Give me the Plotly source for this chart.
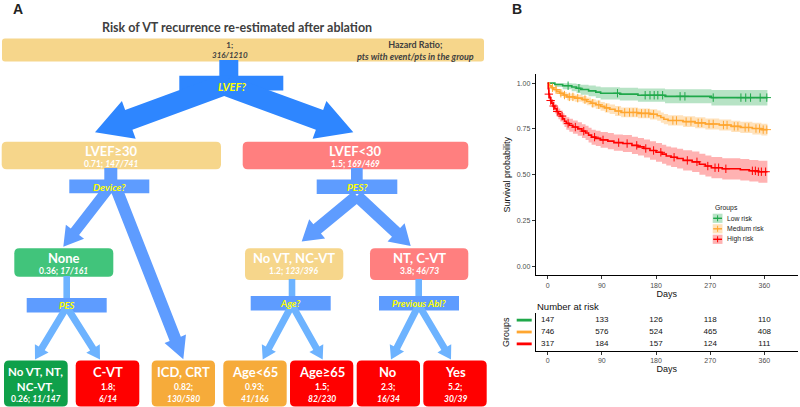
import math
import plotly.graph_objects as go

# ---------------- DATA ----------------
# Panel A: decision tree
root_hr = "1"
root_events = "316/1210"
tree_title = "Risk of VT recurrence re-estimated after ablation"
key_lines = ["Hazard Ratio;", "pts with event/pts in the group"]
questions = ["LVEF?", "Device?", "PES?", "PES", "Age?", "Previous Abl?"]
node_titles = ["LVEF≥30", "LVEF<30", "None", "No VT, NC-VT", "NT, C-VT",
               "No VT, NT,<br>NC-VT,", "C-VT", "ICD, CRT", "Age<65", "Age≥65", "No", "Yes"]
node_hr = ["0.71", "1.5", "0.36", "1.2", "3.8", "0.26", "1.8", "0.82", "0.93", "1.5", "2.3", "5.2"]
node_events = ["147/741", "169/469", "17/161", "123/396", "46/73", "11/147", "6/14",
               "130/580", "41/166", "82/230", "16/34", "30/39"]

# Panel B: Kaplan-Meier curves
groups = ["Low risk", "Medium risk", "High risk"]
g_t = [0, 12, 25, 40, 48, 55, 68, 80, 88, 120, 150, 195, 272, 365]
g_s = [1.0, 0.993, 0.986, 0.979, 0.972, 0.965, 0.958, 0.951, 0.945, 0.940, 0.934, 0.928, 0.921, 0.921]
g_lo = [1.0, 0.979, 0.967, 0.956, 0.946, 0.937, 0.928, 0.919, 0.911, 0.905, 0.898, 0.890, 0.878, 0.878]
g_hi = [1.0, 1.0, 1.0, 0.998, 0.995, 0.991, 0.987, 0.982, 0.978, 0.975, 0.971, 0.967, 0.963, 0.963]
g_c = [34, 52, 116, 162, 170, 177, 183, 191, 220, 228, 275, 321, 329, 337, 353, 364]

o_t = [0, 3, 6, 10, 15, 20, 26, 32, 45, 58, 65, 72, 80, 88, 95, 103, 112, 122, 150, 170,
       182, 188, 193, 200, 225, 245, 262, 285, 305, 320, 340, 355, 365]
o_s = [1.0, 0.985, 0.975, 0.965, 0.955, 0.945, 0.935, 0.925, 0.918, 0.910, 0.900, 0.890, 0.882,
       0.873, 0.865, 0.857, 0.848, 0.840, 0.835, 0.830, 0.822, 0.812, 0.803, 0.796, 0.790, 0.783,
       0.777, 0.771, 0.764, 0.758, 0.752, 0.746, 0.746]
o_lo = [1.0, 0.977, 0.966, 0.954, 0.942, 0.930, 0.919, 0.907, 0.899, 0.890, 0.879, 0.868, 0.859,
        0.849, 0.840, 0.831, 0.821, 0.813, 0.808, 0.802, 0.794, 0.784, 0.775, 0.768, 0.761, 0.754,
        0.747, 0.741, 0.733, 0.727, 0.720, 0.714, 0.714]
o_hi = [1.0, 0.993, 0.985, 0.977, 0.968, 0.960, 0.951, 0.943, 0.937, 0.930, 0.921, 0.912, 0.905,
        0.897, 0.890, 0.883, 0.875, 0.867, 0.862, 0.858, 0.850, 0.840, 0.831, 0.825, 0.819, 0.813,
        0.807, 0.801, 0.795, 0.789, 0.784, 0.778, 0.778]
o_c = [8, 14, 22, 28, 36, 42, 50, 62, 75, 85, 98, 118, 128, 136, 142, 148, 156, 162, 168, 176,
       208, 214, 230, 238, 250, 256, 268, 275, 292, 298, 310, 316, 328, 334, 346, 352, 358, 364]

r_t = [0, 1, 2, 3, 5, 7, 9, 12, 15, 18, 21, 25, 28, 31, 36, 42, 50, 57, 63, 68, 73, 80, 88, 100,
       110, 125, 140, 150, 160, 170, 180, 190, 197, 205, 215, 225, 240, 252, 262, 272, 290, 320,
       335, 350, 365]
r_s = [1.0, 0.97, 0.94, 0.92, 0.905, 0.89, 0.875, 0.86, 0.845, 0.832, 0.82, 0.805, 0.792, 0.78,
       0.77, 0.76, 0.75, 0.738, 0.728, 0.716, 0.705, 0.698, 0.69, 0.683, 0.675, 0.67, 0.66, 0.652,
       0.643, 0.632, 0.622, 0.612, 0.602, 0.595, 0.588, 0.578, 0.57, 0.557, 0.547, 0.538, 0.532,
       0.527, 0.521, 0.516, 0.516]
r_lo = [1.0, 0.958, 0.924, 0.901, 0.884, 0.867, 0.850, 0.834, 0.817, 0.803, 0.790, 0.774, 0.760,
        0.746, 0.735, 0.724, 0.713, 0.700, 0.689, 0.676, 0.664, 0.656, 0.647, 0.639, 0.630, 0.624,
        0.613, 0.604, 0.594, 0.582, 0.571, 0.560, 0.550, 0.542, 0.534, 0.523, 0.514, 0.500, 0.490,
        0.480, 0.474, 0.468, 0.462, 0.456, 0.456]
r_hi = [1.0, 0.982, 0.956, 0.939, 0.926, 0.913, 0.900, 0.886, 0.873, 0.861, 0.850, 0.836, 0.824,
        0.814, 0.805, 0.796, 0.787, 0.776, 0.767, 0.756, 0.746, 0.740, 0.733, 0.727, 0.720, 0.716,
        0.707, 0.700, 0.692, 0.682, 0.673, 0.664, 0.654, 0.648, 0.642, 0.633, 0.626, 0.614, 0.604,
        0.596, 0.590, 0.586, 0.580, 0.576, 0.576]
r_c = [2, 5, 10, 16, 24, 34, 46, 60, 78, 92, 118, 132, 148, 163, 176, 188, 210, 232, 248, 266,
       278, 284, 296, 340, 345, 350, 355, 362]

# Number at risk table
risk_days = [0, 90, 180, 270, 360]
risk_low = [147, 133, 126, 118, 110]
risk_med = [746, 576, 524, 465, 408]
risk_high = [317, 184, 157, 124, 111]
day_ticks = [0, 90, 180, 270, 360]
surv_ticks = [0, 0.25, 0.5, 0.75, 1.0]
surv_ticklabels = ["0.00", "0.25", "0.50", "0.75", "1.00"]

# ---------------- STYLE / LAYOUT ----------------
W, H = 800, 407
FA = "Lato"
FB = "Liberation Sans"
C_TAN = "#F6D68B"
C_SALMON = "#FF7F7F"
C_GREEN_L = "#41C47B"
C_GREEN_D = "#0FA04A"
C_RED = "#FF0000"
C_ORANGE = "#F6AB3A"
C_BLUE1 = "#2E86FF"
C_BLUE2 = "#5E9CFF"
C_BLUE3 = "#6DB3FF"
YEL = "#FFFF00"
COL_G, COL_O, COL_R = "#1FA84A", "#FFA630", "#FF0000"
BAND_G, BAND_O, BAND_R = "rgba(31,168,74,0.32)", "rgba(255,166,48,0.32)", "rgba(255,0,0,0.30)"


def X(px):
    return px / W


def Y(py):
    return 1 - py / H


shapes = []
annotations = []


def poly(points, color):
    d = "M " + " L ".join(f"{X(x):.5f},{Y(y):.5f}" for x, y in points) + " Z"
    shapes.append(dict(type="path", path=d, xref="paper", yref="paper",
                       fillcolor=color, line=dict(width=0), layer="above"))


def rect(x0, y0, x1, y1, color):
    poly([(x0, y0), (x1, y0), (x1, y1), (x0, y1)], color)


def rrect(x0, y0, x1, y1, r, color):
    def p(x, y):
        return f"{X(x):.5f},{Y(y):.5f}"
    d = (f"M {p(x0 + r, y0)} L {p(x1 - r, y0)} Q {p(x1, y0)} {p(x1, y0 + r)} "
         f"L {p(x1, y1 - r)} Q {p(x1, y1)} {p(x1 - r, y1)} L {p(x0 + r, y1)} "
         f"Q {p(x0, y1)} {p(x0, y1 - r)} L {p(x0, y0 + r)} Q {p(x0, y0)} {p(x0 + r, y0)} Z")
    shapes.append(dict(type="path", path=d, xref="paper", yref="paper",
                       fillcolor=color, line=dict(width=0), layer="above"))


def arrow(bx, by, tx, ty, w, hw, hl, color):
    dx, dy = tx - bx, ty - by
    L = math.hypot(dx, dy)
    ux, uy = dx / L, dy / L
    nx, ny = -uy, ux
    hx, hy = tx - ux * hl, ty - uy * hl
    pts = [(bx + nx * w / 2, by + ny * w / 2), (hx + nx * w / 2, hy + ny * w / 2),
           (hx + nx * hw / 2, hy + ny * hw / 2), (tx, ty),
           (hx - nx * hw / 2, hy - ny * hw / 2), (hx - nx * w / 2, hy - ny * w / 2),
           (bx - nx * w / 2, by - ny * w / 2)]
    poly(pts, color)


def text(x, y, s, size, color="white", bold=True, italic=False, font=FA, anchor="center", angle=0):
    if italic:
        s = f"<i>{s}</i>"
    if bold:
        s = f"<b>{s}</b>"
    annotations.append(dict(x=X(x), y=Y(y), xref="paper", yref="paper", text=s, showarrow=False,
                            xanchor=anchor, yanchor="middle", textangle=angle,
                            font=dict(family=font, size=size, color=color)))


# ---- Panel A ----
text(18, 9, "A", 14, color="#222222", font="Liberation Sans")
text(237, 27, tree_title, 12.5, color="#404040")
rrect(2, 38.5, 484, 61.5, 3, C_TAN)
text(230, 50, f"{root_hr};<br><i>{root_events}</i>", 8, color="#404040")
text(415, 50, f"{key_lines[0]}<br><i>{key_lines[1]}</i>", 9, color="#404040")

# level 1 arrow
rect(219.3, 60, 238.3, 77, C_BLUE1)
rect(179.3, 75.7, 283.3, 90.5, C_BLUE1)
arrow(222, 85.7, 95, 132.3, 21, 40, 36, C_BLUE1)
arrow(226.4, 85.7, 353.3, 132.3, 21, 40, 36, C_BLUE1)
text(232, 86.5, questions[0], 11, color=YEL, italic=True)

# level 1 boxes
lvl1 = [(1.7, 141.7, 221, 169.3, C_TAN), (242.7, 141.7, 468.3, 169.3, C_SALMON)]
for i, (x0, y0, x1, y1, c) in enumerate(lvl1):
    rrect(x0, y0, x1, y1, 5, c)
    cx = (x0 + x1) / 2
    text(cx, 151, node_titles[i], 13)
    text(cx, 163.5, f"{node_hr[i]}; <i>{node_events[i]}</i>", 8.5)

# level 2 split: Device?
rect(104.3, 168, 117.3, 180.5, C_BLUE2)
rect(69.3, 179.5, 149.3, 193.3, C_BLUE2)
arrow(110.4, 186, 63.3, 246.7, 10.5, 23, 19, C_BLUE2)
arrow(115.2, 186, 183.3, 359.3, 12, 23, 22, C_BLUE2)
text(109.3, 186.7, questions[1], 10, color=YEL, italic=True)

# level 2 split: PES?
rect(351, 168, 362.7, 180.5, C_BLUE2)
rect(316.7, 179.5, 397.3, 194, C_BLUE2)
arrow(357, 196, 301.7, 241.5, 12, 25, 20, C_BLUE2)
arrow(357, 196, 410.7, 246, 12, 25, 20, C_BLUE2)
text(357, 187, questions[2], 10, color=YEL, italic=True)

# level 2 boxes
lvl2 = [(14.3, 248.3, 113.3, 276.7, C_GREEN_L), (245, 248.3, 343.3, 280, C_TAN),
        (370, 248.3, 468.3, 280, C_SALMON)]
for k, (x0, y0, x1, y1, c) in enumerate(lvl2):
    i = k + 2
    rrect(x0, y0, x1, y1, 5, c)
    cx = (x0 + x1) / 2
    text(cx, 258, node_titles[i], 13)
    text(cx, 271, f"{node_hr[i]}; <i>{node_events[i]}</i>", 8.5)

# level 3 splits
lvl3 = [(66.7, 276, 298, 26.7, 106.7, 35, 100, questions[3]),
        (292, 279, 296, 250.7, 330.7, 262.7, 322.7, questions[4]),
        (418.7, 279, 296, 379, 459, 391, 451, questions[5])]
for cx, ytop, yb, bx0, bx1, t1, t2, q in lvl3:
    rect(cx - 3.3, ytop, cx + 3.3, yb + 1, C_BLUE3)
    rect(bx0, yb, bx1, yb + 14.5, C_BLUE2)
    arrow(cx, yb + 9, t1, 359.5, 7, 16, 13, C_BLUE3)
    arrow(cx, yb + 9, t2, 359.5, 7, 16, 13, C_BLUE3)
    text((bx0 + bx1) / 2, yb + 7.5, q, 9.5, color=YEL, italic=True)

# bottom boxes
bottom = [(4, 67.7, C_GREEN_D), (75.7, 139.3, C_RED), (151.7, 215, C_ORANGE),
          (223.3, 286.7, C_ORANGE), (290, 353.3, C_RED), (356.7, 420, C_RED), (423.3, 486.7, C_RED)]
for k, (x0, x1, c) in enumerate(bottom):
    i = k + 5
    rrect(x0, 360.5, x1, 406.5, 5, c)
    cx = (x0 + x1) / 2
    if k == 0:
        text(cx, 378.5, node_titles[i], 11.5)
        text(cx, 398.5, f"{node_hr[i]}; <i>{node_events[i]}</i>", 8.5)
    else:
        text(cx, 372, node_titles[i], 13)
        text(cx, 386.5, f"{node_hr[i]};", 8.5)
        text(cx, 398.5, node_events[i], 8.5, italic=True)

# ---- Panel B ----
text(517, 9, "B", 14, color="#222222", font="Liberation Sans")

fig = go.Figure()


def step_at(ts, ss, c):
    v = ss[0]
    for t, s in zip(ts, ss):
        if t <= c:
            v = s
    return v


series = [(g_t, g_s, g_lo, g_hi, g_c, COL_G, BAND_G),
          (o_t, o_s, o_lo, o_hi, o_c, COL_O, BAND_O),
          (r_t, r_s, r_lo, r_hi, r_c, COL_R, BAND_R)]
for ts, ss, lo, hi, cens, col, band in series:
    fig.add_trace(go.Scatter(x=ts, y=hi, mode="lines", line=dict(width=0, shape="hv"),
                             showlegend=False, hoverinfo="skip", xaxis="x", yaxis="y"))
    fig.add_trace(go.Scatter(x=ts, y=lo, mode="lines", line=dict(width=0, shape="hv"),
                             fill="tonexty", fillcolor=band, showlegend=False, hoverinfo="skip",
                             xaxis="x", yaxis="y"))
for ts, ss, lo, hi, cens, col, band in series:
    fig.add_trace(go.Scatter(x=ts, y=ss, mode="lines", line=dict(width=1.6, color=col, shape="hv"),
                             showlegend=False, xaxis="x", yaxis="y"))
    fig.add_trace(go.Scatter(x=cens, y=[step_at(ts, ss, c) for c in cens], mode="markers",
                             marker=dict(symbol="cross-thin", size=6, line=dict(width=1, color=col)),
                             showlegend=False, xaxis="x", yaxis="y"))

# risk table
for vals, row in [(risk_low, 3), (risk_med, 2), (risk_high, 1)]:
    fig.add_trace(go.Scatter(x=risk_days, y=[row] * len(vals), mode="text",
                             text=[str(v) for v in vals],
                             textfont=dict(family=FB, size=8, color="#111111"),
                             showlegend=False, xaxis="x2", yaxis="y2"))

# colored group keys for table
for col, row in [(COL_G, 3), (COL_O, 2), (COL_R, 1)]:
    shapes.append(dict(type="line", xref="paper", yref="y2", x0=X(516.7), x1=X(531.7), y0=row, y1=row,
                       line=dict(color=col, width=2.8)))
text(506, 332, "Groups", 9, color="#111111", bold=False, font=FB, angle=-90)
text(535, 306, "Number at risk", 9.5, color="#111111", bold=False, font=FB, anchor="left")

# legend (manual)
text(712.5, 208.3, "Groups", 6.8, color="#222222", bold=False, font=FB, anchor="left")
for k, (name, col, band) in enumerate([(groups[0], COL_G, BAND_G), (groups[1], COL_O, BAND_O),
                                       (groups[2], COL_R, BAND_R)]):
    yc = 218.3 + k * 10.5
    shapes.append(dict(type="rect", xref="paper", yref="paper", x0=X(712.7), x1=X(722.5),
                       y0=Y(yc - 4.6), y1=Y(yc + 4.6), fillcolor=band, line=dict(width=0)))
    shapes.append(dict(type="line", xref="paper", yref="paper", x0=X(713.2), x1=X(722), y0=Y(yc), y1=Y(yc),
                       line=dict(color=col, width=1.4)))
    shapes.append(dict(type="line", xref="paper", yref="paper", x0=X(717.6), x1=X(717.6), y0=Y(yc - 3), y1=Y(yc + 3),
                       line=dict(color=col, width=1)))
    text(724.5, yc, name, 6.8, color="#222222", bold=False, font=FB, anchor="left")

ax_common = dict(showgrid=False, zeroline=False, showline=True, linecolor="#000000", linewidth=1,
                 ticks="outside", ticklen=3, tickcolor="#333333",
                 tickfont=dict(family=FB, size=7, color="#4D4D4D"))
fig.update_layout(
    width=W, height=H, margin=dict(l=0, r=0, t=0, b=0),
    paper_bgcolor="white", plot_bgcolor="rgba(0,0,0,0)", showlegend=False,
    xaxis=dict(domain=[X(535.7), X(798)], range=[-19.8, 415.8], tickvals=day_ticks, anchor="y",
               title=dict(text="Days", font=dict(family=FB, size=9, color="#111111"), standoff=2),
               **ax_common),
    yaxis=dict(domain=[Y(275.3), Y(74)], range=[-0.05, 1.05], tickvals=surv_ticks,
               ticktext=surv_ticklabels, anchor="x",
               title=dict(text="Survival probability", font=dict(family=FB, size=9, color="#111111"),
                          standoff=4),
               **ax_common),
    xaxis2=dict(domain=[X(535.7), X(798)], range=[-19.8, 415.8], tickvals=day_ticks, anchor="y2",
                title=dict(text="Days", font=dict(family=FB, size=9, color="#111111"), standoff=1),
                **ax_common),
    yaxis2=dict(domain=[Y(351), Y(313)], range=[0.4, 3.6], anchor="x2", showgrid=False,
                zeroline=False, showline=True, linecolor="#000000", linewidth=1,
                showticklabels=False, ticks=""),
    shapes=shapes, annotations=annotations,
)

fig.write_html("out.html", config={"displayModeBar": False},
               post_script="document.body.style.margin='0';document.body.style.overflow='hidden';")
